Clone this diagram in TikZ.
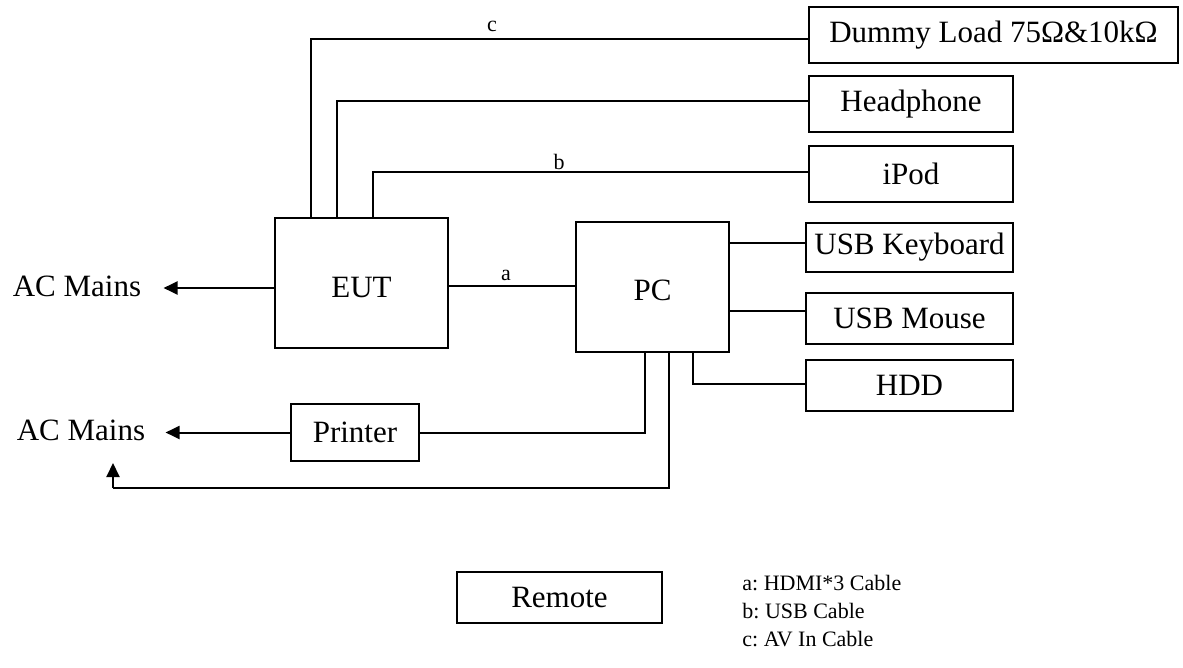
\documentclass[tikz,border=0pt]{standalone}
\usepackage{fontspec}
\setmainfont{Liberation Serif}
\usetikzlibrary{arrows.meta}
\frenchspacing
\begin{document}
\begin{tikzpicture}[x=0.5pt,y=-0.5pt,
  box/.style={draw,line width=1pt,inner sep=0pt,font=\fontsize{15.5}{18}\selectfont},
  txt/.style={inner sep=0pt,font=\fontsize{15.5}{18}\selectfont},
  lbl/.style={inner sep=0pt,font=\fontsize{11}{13}\selectfont},
  leg/.style={inner sep=0pt,anchor=west,font=\fontsize{11}{13}\selectfont},
  wire/.style={line width=1pt},
  arr/.style={line width=1pt,-{Triangle[length=7pt,width=6.5pt]}}]
\useasboundingbox (0,0) rectangle (1183,668);
% boxes
\node[box,minimum width=184.5pt,minimum height=28pt] (dummy) at (993.5,35) {Dummy Load 75Ω\&10kΩ};
\node[box,minimum width=102pt,minimum height=28pt] (head) at (911,104) {Headphone};
\node[box,minimum width=102pt,minimum height=28pt] (ipod) at (911,174) {iPod};
\node[box,minimum width=103.5pt,minimum height=24.5pt] (kbd) at (909.5,247.5) {USB Keyboard};
\node[box,minimum width=103.5pt,minimum height=25.5pt] (mouse) at (909.5,318.5) {USB Mouse};
\node[box,minimum width=103.5pt,minimum height=25.5pt] (hdd) at (909.5,385.5) {HDD};
\node[box,minimum width=86.5pt,minimum height=65pt] (eut) at (361.5,283) {\raisebox{-2.5pt}[\height][\depth]{EUT}};
\node[box,minimum width=76.5pt,minimum height=65pt] (pc) at (652.5,287) {\raisebox{-1.5pt}[\height][\depth]{PC}};
\node[box,minimum width=64pt,minimum height=28.5pt] (printer) at (355,432.5) {Printer};
\node[box,minimum width=102.5pt,minimum height=25.5pt] (remote) at (559.5,597.5) {Remote};
% AC mains
\node[txt] (acm1) at (77,286) {AC Mains};
\node[txt] (acm2) at (81,430) {AC Mains};
\coordinate (acm3) at (113,463);
\coordinate (bend) at (113,488);
% connectors from EUT
\draw[wire] ([xshift=18.5pt]eut.north west) |- ([yshift=-2pt]dummy.west);
\draw[wire] ([xshift=31.5pt]eut.north west) |- ([yshift=1.5pt]head.west);
\draw[wire] ([xshift=49.5pt]eut.north west) |- ([yshift=1pt]ipod.west);
\draw[wire] ([yshift=-1.5pt]eut.east) -- ([yshift=-1.5pt]eut.east -| pc.west);
\draw[arr] ([yshift=-2.5pt]eut.west) -- ([yshift=-2.5pt,xshift=11pt]eut.west -| acm1.east);
% PC connectors
\draw[wire] ([yshift=2.25pt]kbd.west -| pc.east) -- ([yshift=2.25pt]kbd.west);
\draw[wire] ([yshift=3.75pt]mouse.west -| pc.east) -- ([yshift=3.75pt]mouse.west);
\draw[wire] ([xshift=59pt]pc.south west) |- ([yshift=0.75pt]hdd.west);
\draw[wire] ([xshift=35pt]pc.south west) |- (printer.east);
\draw[arr] (printer.west) -- ([xshift=10pt]printer.west -| acm2.east);
\draw[wire] ([xshift=47pt]pc.south west) |- (bend);
\draw[arr] (bend) -- (acm3);
% labels
\node[lbl] (la) at (506,275) {a};
\node[lbl] (lb) at (559,162) {b};
\node[lbl] (lc) at (492,26) {c};
% legend
\node[leg] (leg1) at (742,583) {a: HDMI*3 Cable};
\node[leg] (leg2) at (742,611) {b: USB Cable};
\node[leg] (leg3) at (742,639) {c: AV In Cable};
\end{tikzpicture}
\end{document}
